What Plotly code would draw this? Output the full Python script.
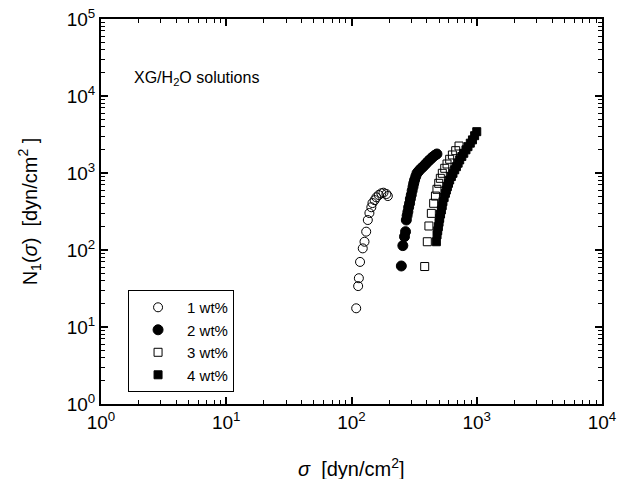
import plotly.graph_objects as go

# 1 wt%
x1 = [109, 113, 114.5, 117, 123, 127, 131, 135, 139, 144, 147, 153, 158, 165, 173, 180, 190, 195]
y1 = [17.5, 34, 43, 70, 105, 128, 173, 245, 302, 359, 407, 444, 483, 518, 545, 555, 533, 502]
# 2 wt%
x2 = [250, 257, 265, 270, 274, 278, 282, 286, 291, 295, 300, 305, 310, 314, 319, 326, 333, 341,
      350, 361, 372, 384, 396, 408, 421, 434, 447, 464, 481]
y2 = [62, 114, 149, 173, 245, 280, 314, 360, 404, 460, 518, 590, 664, 735, 811, 900, 991, 1040,
      1095, 1150, 1203, 1270, 1337, 1410, 1479, 1550, 1623, 1700, 1766]
# 3 wt%
x3 = [384, 403, 415, 434, 453, 468, 481, 497, 512, 531, 555, 579, 608, 639, 679, 722]
y3 = [61, 128, 205, 299, 404, 502, 614, 735, 853, 991, 1151, 1309, 1507, 1714, 1950, 2240]
# 4 wt%
x4 = [476, 482, 488, 494, 500, 506, 514, 522, 530, 537, 549, 562, 572, 583, 595, 608, 627, 646,
      667, 688, 710, 731, 760, 788, 820, 851, 888, 924, 962, 1000]
y4 = [128, 157, 178, 201, 229, 258, 293, 331, 376, 424, 480, 545, 600, 664, 735, 811, 900, 991,
      1100, 1208, 1340, 1479, 1640, 1803, 2000, 2198, 2440, 2692, 3050, 3440]

names = ["1 wt%", "2 wt%", "3 wt%", "4 wt%"]
symbols = ["circle-open", "circle", "square-open", "square"]
sizes = [9, 10, 8, 8]

xtick_vals = [1, 10, 100, 1000, 10000]
xtick_text = ["10<sup>0</sup>", "10<sup>1</sup>", "10<sup>2</sup>", "10<sup>3</sup>", "10<sup>4</sup>"]
ytick_vals = [1, 10, 100, 1000, 10000, 100000]
ytick_text = ["10<sup>0</sup>", "10<sup>1</sup>", "10<sup>2</sup>", "10<sup>3</sup>", "10<sup>4</sup>", "10<sup>5</sup>"]

FONT = "Liberation Sans, Arial, sans-serif"

fig = go.Figure()
for xs, ys, nm, sym, sz in zip([x1, x2, x3, x4], [y1, y2, y3, y4], names, symbols, sizes):
    fig.add_trace(go.Scatter(
        x=xs, y=ys, mode="markers", name=nm,
        marker=dict(symbol=sym, size=sz, color="black", line=dict(color="black", width=1)),
    ))

axis_common = dict(
    type="log", showgrid=False, zeroline=False, automargin=False,
    showline=True, linecolor="black", linewidth=2, mirror="allticks",
    ticks="inside", ticklen=7, tickwidth=1.5, tickcolor="black",
    minor=dict(ticks="inside", ticklen=4, tickwidth=1, tickcolor="black", dtick="D1", showgrid=False),
    tickfont=dict(family=FONT, size=19, color="black"),
)

fig.update_xaxes(**axis_common, range=[0, 4], tickvals=xtick_vals, ticktext=xtick_text)
fig.update_yaxes(**axis_common, range=[0, 5], tickvals=ytick_vals, ticktext=ytick_text)

# axis titles as annotations for exact placement
fig.add_annotation(
    text="<i>σ</i>  [dyn/cm<sup>2</sup>]", xref="paper", yref="paper", x=0.5, y=-0.164,
    xanchor="center", yanchor="middle", showarrow=False,
    font=dict(family=FONT, size=20, color="black"),
)
fig.add_annotation(
    text="N<sub>1</sub>(<i>σ</i>)  [dyn/cm<sup>2</sup> ]", xref="paper", yref="paper", x=-0.142, y=0.5,
    xanchor="center", yanchor="middle", showarrow=False, textangle=-90,
    font=dict(family=FONT, size=20, color="black"),
)

fig.add_annotation(
    text="XG/H<sub>2</sub>O solutions", xref="paper", yref="paper", x=0.062, y=0.845,
    xanchor="left", yanchor="middle", showarrow=False,
    font=dict(family=FONT, size=16, color="black"),
)

fig.update_layout(
    width=629, height=479,
    margin=dict(l=101, r=27, t=19, b=75),
    paper_bgcolor="white", plot_bgcolor="white",
    showlegend=True,
    legend=dict(x=0.054, y=0.296, xanchor="left", yanchor="top",
                bordercolor="black", borderwidth=1, bgcolor="white",
                font=dict(family=FONT, size=15, color="black"),
                tracegroupgap=0, itemsizing="trace", itemwidth=48),
)

fig.write_html("out.html")
